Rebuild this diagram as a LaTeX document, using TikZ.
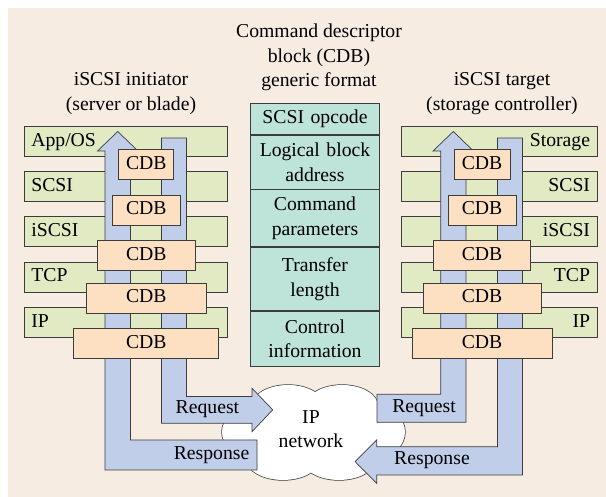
\documentclass[tikz,border=0pt]{standalone}
\usepackage{fontspec}
\setmainfont{Liberation Serif}
\usepackage{xcolor}
\usetikzlibrary{positioning}

\definecolor{bgbeige}{RGB}{246,236,226}
\definecolor{layergreen}{RGB}{226,234,196}
\definecolor{fieldteal}{RGB}{190,227,216}
\definecolor{cdborange}{RGB}{253,223,194}
\definecolor{flowblue}{RGB}{193,206,234}
\definecolor{edgegray}{RGB}{60,60,60}

% puffs of the IP network cloud
\def\netpuffs{(288,406) ellipse (36pt and 21pt) (342,406) ellipse (36pt and 21pt)
  (283,460) ellipse (36pt and 20pt) (339,460) ellipse (36pt and 20pt)
  (248,432) ellipse (26pt and 24pt) (380,432) ellipse (25pt and 24pt)
  (314,433) ellipse (70pt and 35pt)}

\begin{document}
\begin{tikzpicture}[x=1pt,y=-1pt,line width=0.7pt,font=\fontsize{19.7}{24.5}\selectfont]
			\tikzstyle{layer}=[draw=edgegray,fill=layergreen,minimum height=30pt,inner sep=0pt,anchor=north west,text height=13.5pt,text depth=4pt]
			\tikzstyle{cdb}=[draw=edgegray,fill=cdborange,minimum height=30pt,inner sep=0pt,text height=13.5pt,text depth=4pt]
			\tikzstyle{field}=[draw=edgegray,fill=fieldteal,minimum width=129pt,text width=125pt,align=center,inner sep=0pt]
			\tikzstyle{flow}=[draw=edgegray,fill=flowblue,line join=miter]
			\tikzstyle{title}=[align=center,inner sep=0pt]
			\fill[white] (0,0) rectangle (606,497);
			\useasboundingbox (0,0) rectangle (606,497);
			\fill[bgbeige] (7.7,8) rectangle (606,497);
			% headings
			\node[title]    (hcdb)  at (319,57.5)   {Command descriptor\\block (CDB)\\generic format};
			\node[title]    (hini)  at (131,93.5)   {iSCSI initiator\\(server or blade)};
			\node[title]    (htgt)  at (502,93.5)   {iSCSI target\\(storage controller)};
			% CDB generic format
			\node[field,minimum height=31pt,anchor=north] (f1) at (315,103)  {SCSI opcode};
			\node[field,minimum height=54pt,below=0pt of f1] (f2)          {Logical block\\address};
			\node[field,minimum height=57pt,below=0pt of f2] (f3)          {Command\\parameters};
			\node[field,minimum height=63pt,below=0pt of f3] (f4)          {Transfer\\length};
			\node[field,minimum height=55pt,below=0pt of f4] (f5)          {Control\\information};
			% initiator layers
			\node[layer,minimum width=203pt,text width=189pt,align=left] (lapp)  at (24,126)    {App/OS};
			\node[layer,minimum width=203pt,text width=189pt,align=left] (lscsi) at (24,171.25) {SCSI};
			\node[layer,minimum width=203pt,text width=189pt,align=left] (liscsi) at (24,216.5) {iSCSI};
			\node[layer,minimum width=203pt,text width=189pt,align=left] (ltcp)  at (24,261.75) {TCP};
			\node[layer,minimum width=203pt,text width=189pt,align=left] (lip)   at (24,307)    {IP};
			% target layers
			\node[layer,minimum width=196pt,text width=182pt,align=right] (rsto)  at (400.7,126)    {Storage};
			\node[layer,minimum width=196pt,text width=182pt,align=right] (rscsi) at (400.7,171.25) {SCSI};
			\node[layer,minimum width=196pt,text width=182pt,align=right] (riscsi) at (400.7,216.5) {iSCSI};
			\node[layer,minimum width=196pt,text width=182pt,align=right] (rtcp)  at (400.7,261.75) {TCP};
			\node[layer,minimum width=196pt,text width=182pt,align=right] (rip)   at (400.7,307)    {IP};
			% network
			\draw[edgegray,line width=1.4pt] \netpuffs;
			\fill[white] \netpuffs;
			\node[title] (net) at (311,429) {IP\\network};
			% flows
			\draw[flow] (105,470) -- (105,151) -- (97.5,151) -- (117.75,131.5) -- (138,151) -- (130.5,151) -- (130.5,440) -- (257,440) -- (257,470) -- cycle;
			\draw[flow] (161.5,138) -- (186.5,138) -- (186.5,396.5) -- (252,396.5) -- (252,388.3) -- (272.7,409.8) -- (252,431.7) -- (252,423.3) -- (161.5,423.3) -- cycle;
			\draw[flow] (466,422.3) -- (466,151) -- (473.5,151) -- (453.3,131.5) -- (433,151) -- (440.7,151) -- (440.7,394.3) -- (377,394.3) -- (377,422.3) -- cycle;
			\draw[flow] (497.5,138) -- (522.5,138) -- (522.5,475) -- (376.7,475) -- (376.7,483.3) -- (355,461.5) -- (376.7,440) -- (376.7,446.7) -- (497.5,446.7) -- cycle;
			\node (lreq)  at (207.4,409)  {Request};
			\node (lresp) at (211.6,455.5) {Response};
			\node (rreq)  at (424,408.5)  {Request};
			\node (rresp) at (432,460.5)  {Response};
			% CDB copies, initiator
			\node[cdb,minimum width=55pt]  (lc1) at (146.3,164.7) {CDB};
			\node[cdb,minimum width=68pt]  (lc2) at (146.3,210.1) {CDB};
			\node[cdb,minimum width=98pt]  (lc3) at (146.3,255.7) {CDB};
			\node[cdb,minimum width=120pt] (lc4) at (146.3,298)   {CDB};
			\node[cdb,minimum width=145pt] (lc5) at (146.3,343.3) {CDB};
			% CDB copies, target
			\node[cdb,minimum width=56pt]  (rc1) at (482,164.7) {CDB};
			\node[cdb,minimum width=68pt]  (rc2) at (482,210.1) {CDB};
			\node[cdb,minimum width=97pt]  (rc3) at (482,255.7) {CDB};
			\node[cdb,minimum width=118pt] (rc4) at (482,298)   {CDB};
			\node[cdb,minimum width=140pt] (rc5) at (482,343.3) {CDB};
\end{tikzpicture}
\end{document}
